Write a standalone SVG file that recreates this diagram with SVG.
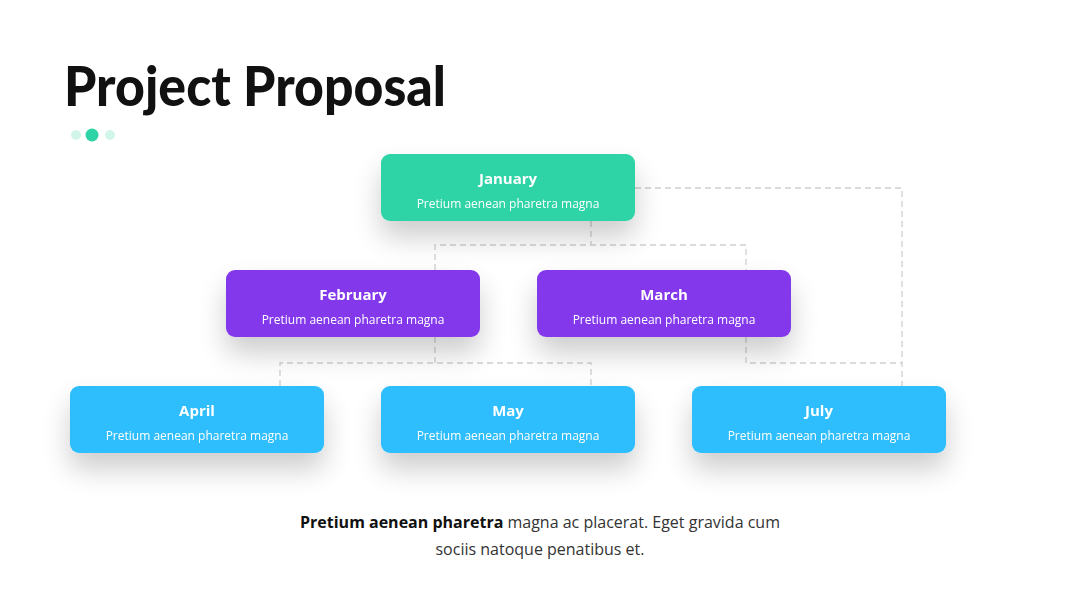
<svg xmlns="http://www.w3.org/2000/svg" width="1080" height="608" viewBox="0 0 1080 608">
<defs>
<filter id="sh" x="-30%" y="-40%" width="160%" height="240%">
<feGaussianBlur in="SourceAlpha" stdDeviation="14"/>
<feOffset dy="16" result="b"/>
<feComponentTransfer><feFuncA type="linear" slope="0.2"/></feComponentTransfer>
<feMerge><feMergeNode/><feMergeNode in="SourceGraphic"/></feMerge>
</filter>
</defs>
<style>
.t{font-family:"Open Sans","Liberation Sans",sans-serif;font-weight:700;font-size:15px;fill:#fff;text-anchor:middle}
.s{font-family:"Open Sans","Liberation Sans",sans-serif;font-size:12px;fill:#fff;text-anchor:middle}
.c{fill:none;stroke:#cfcfcf;stroke-width:1.3;stroke-dasharray:6 4}
.g{fill:#2ed3a6}.p{fill:#8338ec}.b{fill:#2ebdfd}
</style>
<rect width="1080" height="608" fill="#fff"/>
<text x="64" y="106" font-family="Lato, Open Sans, Liberation Sans, sans-serif" font-weight="900" font-size="55" fill="#111" textLength="382" lengthAdjust="spacingAndGlyphs">Project Proposal</text>
<circle cx="76" cy="135" r="5" fill="#d2f5ea"/>
<circle cx="92" cy="135" r="6.5" fill="#2ed3a6"/>
<circle cx="110" cy="135" r="5" fill="#d2f5ea"/>
<g id="connectors">
<path class="c" d="M591 221V245M435 270V245H746V270"/>
<path class="c" d="M635 188H902V386"/>
<path class="c" d="M435 337V363M280 386V363H591V386"/>
<path class="c" d="M746 337V363H902"/>
</g>
<g id="january" filter="url(#sh)"><rect class="g" x="381" y="154" width="254" height="67" rx="9"/><text class="t" x="508" y="184">January</text><text class="s" x="508" y="208">Pretium aenean pharetra magna</text></g>
<g id="february" filter="url(#sh)"><rect class="p" x="226" y="270" width="254" height="67" rx="9"/><text class="t" x="353" y="300">February</text><text class="s" x="353" y="324">Pretium aenean pharetra magna</text></g>
<g id="march" filter="url(#sh)"><rect class="p" x="537" y="270" width="254" height="67" rx="9"/><text class="t" x="664" y="300">March</text><text class="s" x="664" y="324">Pretium aenean pharetra magna</text></g>
<g id="april" filter="url(#sh)"><rect class="b" x="70" y="386" width="254" height="67" rx="9"/><text class="t" x="197" y="416">April</text><text class="s" x="197" y="440">Pretium aenean pharetra magna</text></g>
<g id="may" filter="url(#sh)"><rect class="b" x="381" y="386" width="254" height="67" rx="9"/><text class="t" x="508" y="416">May</text><text class="s" x="508" y="440">Pretium aenean pharetra magna</text></g>
<g id="july" filter="url(#sh)"><rect class="b" x="692" y="386" width="254" height="67" rx="9"/><text class="t" x="819" y="416">July</text><text class="s" x="819" y="440">Pretium aenean pharetra magna</text></g>
<g font-family="Open Sans, Liberation Sans, sans-serif" font-size="16" fill="#333" text-anchor="middle">
<text x="540" y="528"><tspan font-weight="700" fill="#111">Pretium aenean pharetra</tspan> magna ac placerat. Eget gravida cum</text>
<text x="540" y="555">sociis natoque penatibus et.</text>
</g>
</svg>
